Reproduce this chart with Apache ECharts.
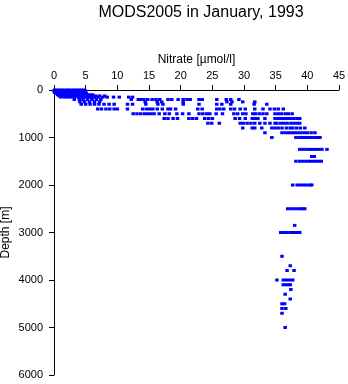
<!DOCTYPE html>
<html>
<head>
<meta charset="utf-8">
<script src="https://cdn.jsdelivr.net/npm/echarts@6/dist/echarts.min.js"></script>
<style>
html,body{margin:0;padding:0;background:#fff;}
#chart{width:348px;height:384px;}
</style>
</head>
<body>
<div id="chart"></div>
<script>
// Standard depth levels [m]
const depthLevels = [0, 10, 20, 30, 50, 75, 100, 125, 150, 200, 250, 300, 400, 500, 600, 700, 800, 900, 1000,
  1250, 1400, 1500, 2000, 2500, 2850, 3000, 3500, 3700, 3800, 4000, 4100, 4200, 4300, 4400, 4500, 4600, 4700, 5000];

// Nitrate values [µmol/l] observed at each level
const nitrateAtLevel = [
  [0.1, 0.5, 0.9, 1.3, 1.8, 2.2, 2.6, 3.1, 3.5, 3.9, 4.3, 4.7],
  [0.2, 0.6, 1.1, 1.5, 1.9, 2.4, 2.8, 3.2, 3.7, 4.1, 4.5, 4.9],
  [0.0, 0.4, 0.8, 1.2, 1.7, 2.1, 2.5, 3.0, 3.4, 3.8, 4.2, 4.6],
  [0.3, 0.7, 1.0, 1.4, 1.8, 2.3, 2.7, 3.3, 3.6, 4.0, 4.4, 4.8],
  [0.1, 0.5, 0.9, 1.4, 1.9, 2.3, 2.8, 3.2, 3.7, 4.1, 4.6, 5.0],
  [0.3, 0.8, 1.2, 1.6, 2.0, 2.5, 2.9, 3.4, 3.9, 4.3, 4.8, 5.1],
  [0.6, 1.0, 1.5, 2.0, 2.4, 2.9, 3.3, 3.8, 4.2, 4.7, 5.2, 5.6, 6.1],
  [0.8, 1.3, 1.8, 2.3, 2.7, 3.2, 3.6, 4.1, 4.6, 5.0, 5.5, 6.0, 6.6, 7.2, 8.0],
  [1.1, 1.7, 2.2, 2.7, 3.3, 3.9, 4.4, 5.0, 5.4, 5.9, 6.4, 7.0, 7.7, 8.4, 9.4, 10.3, 11.8, 12.4],
  [3.2, 4.0, 4.6, 5.3, 6.0, 6.7, 7.4, 12.2, 13.3, 13.7, 14.2, 14.8, 15.5, 16.1, 16.7, 18.0, 18.6, 19.6, 20.4, 21.0, 21.5, 22.9, 23.4, 25.7, 27.2, 27.9, 29.2],
  [4.1, 4.8, 5.6, 6.4, 7.2, 14.4, 16.3, 17.0, 20.4, 27.3, 28.1, 29.8, 31.7],
  [4.3, 5.0, 5.7, 6.4, 7.1, 7.9, 8.7, 9.5, 11.6, 12.4, 14.5, 16.4, 17.2, 20.4, 22.9, 25.7, 26.5, 27.9, 31.6, 33.6],
  [6.9, 7.5, 8.2, 8.8, 9.5, 10.0, 11.6, 14.0, 14.6, 15.1, 15.6, 16.3, 17.1, 18.0, 18.4, 19.2, 22.7, 23.4, 25.7, 26.2, 26.8, 27.9, 28.5, 29.4, 30.2, 31.7, 33.0, 34.1, 34.8, 35.4, 36.2],
  [12.5, 13.1, 13.7, 14.3, 14.8, 15.3, 15.8, 16.6, 17.5, 18.2, 19.4, 20.3, 21.3, 22.9, 23.5, 24.1, 24.6, 25.6, 26.6, 28.4, 29.0, 29.8, 30.3, 31.4, 31.8, 32.4, 33.0, 33.6, 34.9, 35.4, 35.9, 36.5, 37.0, 37.6],
  [17.4, 18.0, 18.8, 19.5, 21.3, 21.9, 22.5, 23.8, 24.4, 25.0, 28.6, 29.3, 30.2, 31.3, 31.8, 32.2, 33.3, 34.9, 35.4, 35.9, 36.4, 36.9, 37.4, 37.9, 38.4, 38.8],
  [24.3, 24.9, 26.1, 29.4, 29.9, 30.5, 31.1, 31.7, 32.5, 33.3, 34.1, 34.9, 35.2, 35.8, 36.3, 36.8, 37.4, 37.9, 38.4, 38.8],
  [29.8, 31.3, 31.7, 32.8, 34.4, 34.9, 35.4, 36.0, 36.7, 37.3, 37.7, 38.3, 38.9, 39.6],
  [33.3, 36.0, 36.5, 37.0, 37.5, 38.0, 38.5, 39.0, 39.5, 40.0, 40.6, 41.2],
  [34.4, 38.2, 38.7, 39.2, 39.7, 40.2, 40.7, 41.2, 41.6, 42.0],
  [38.8, 39.3, 39.8, 40.3, 40.8, 41.3, 41.8, 42.3, 43.1],
  [40.7, 41.1],
  [38.2, 38.8, 39.3, 39.8, 40.3, 40.8, 41.3, 41.8, 42.2],
  [37.7, 38.4, 38.9, 39.4, 39.9, 40.4, 40.7],
  [36.9, 37.4, 37.9, 38.4, 38.9, 39.3, 39.6],
  [38.0],
  [35.8, 36.3, 36.8, 37.3, 37.8, 38.3, 38.8],
  [36.0],
  [37.3],
  [36.8, 37.9],
  [35.2, 36.2, 36.7, 37.2, 37.7],
  [36.2, 36.6, 37.0, 37.3],
  [37.4],
  [36.5],
  [37.3],
  [36.0, 36.4],
  [36.0, 36.6],
  [36.0],
  [36.5]
];

const xTicks = [0, 5, 10, 15, 20, 25, 30, 35, 40, 45];
const yTicks = [0, 1000, 2000, 3000, 4000, 5000, 6000];

const points = [];
depthLevels.forEach((d, i) => {
  nitrateAtLevel[i].forEach(v => points.push([v, d]));
});

const FONT = 'Liberation Sans, Arial, Helvetica, sans-serif';
const chart = echarts.init(document.getElementById('chart'), null, {renderer: 'canvas'});
chart.setOption({
  animation: false,
  backgroundColor: '#ffffff',
  title: {
    text: 'MODS2005 in January, 1993',
    left: 196, top: 0, textAlign: 'center',
    textStyle: {fontFamily: FONT, fontSize: 16, fontWeight: 'normal', color: '#000'}
  },
  grid: {left: 54, top: 90, width: 285, height: 285, containLabel: false, outerBoundsMode: 'none'},
  xAxis: {
    type: 'value', position: 'top', min: 0, max: 45, interval: 5,
    name: 'Nitrate [µmol/l]', nameLocation: 'middle', nameGap: 24, nameMoveOverlap: false,
    nameTextStyle: {fontFamily: FONT, fontSize: 12, color: '#000'},
    axisLine: {show: true, lineStyle: {color: '#000', width: 1}},
    axisTick: {show: true, inside: false, length: 5, lineStyle: {color: '#000'}},
    axisLabel: {fontFamily: FONT, fontSize: 11, color: '#000', margin: 9,
      formatter: v => xTicks.includes(v) ? String(v) : ''},
    splitLine: {show: false}
  },
  yAxis: {
    type: 'value', inverse: true, min: 0, max: 6000, interval: 1000,
    name: 'Depth [m]', nameLocation: 'middle', nameGap: 42, nameMoveOverlap: false,
    nameTextStyle: {fontFamily: FONT, fontSize: 12, color: '#000'},
    axisLine: {show: true, lineStyle: {color: '#000', width: 1}},
    axisTick: {show: true, inside: false, length: 5, lineStyle: {color: '#000'}},
    axisLabel: {fontFamily: FONT, fontSize: 11, color: '#000', margin: 11,
      formatter: v => yTicks.includes(v) ? String(v) : ''},
    splitLine: {show: false}
  },
  series: [{
    type: 'scatter',
    data: points,
    symbol: 'rect',
    symbolSize: [3.5, 3],
    itemStyle: {color: '#0000ff', opacity: 1},
    silent: true
  }]
});
</script>
</body>
</html>
